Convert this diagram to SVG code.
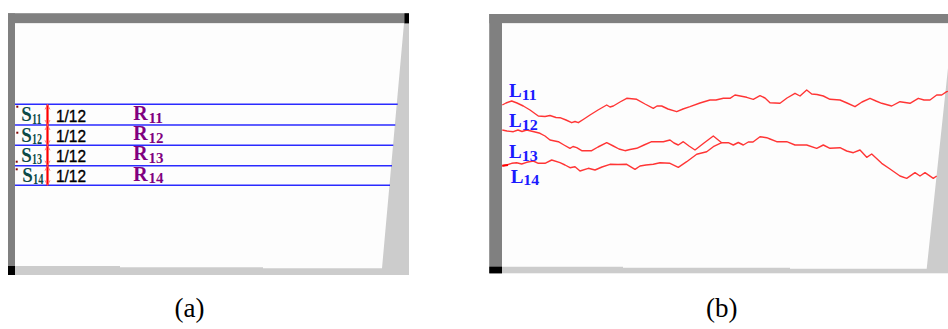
<svg xmlns="http://www.w3.org/2000/svg" width="948" height="329" viewBox="0 0 948 329">
<style>
.lg{fill:#cccccc}
.dg{fill:#808080}
.bk{fill:#000000}
.wh{fill:#fdfdfd}
.bl{stroke:#2a2aff;stroke-width:1.5;fill:none}
.rl{stroke:#ff3535;stroke-width:1.4;fill:none;stroke-linejoin:round}
.ar{stroke:#ff0000;stroke-width:2.2;fill:none;marker-start:url(#ah);marker-end:url(#ah)}
.s{font-family:"Liberation Serif",serif;font-weight:bold;fill:#0c4a48}
.r{font-family:"Liberation Serif",serif;font-weight:bold;fill:#800080}
.l{font-family:"Liberation Serif",serif;font-weight:bold;fill:#1a1aff}
.f{font-family:"Liberation Sans",sans-serif;font-size:16.5px;fill:#000;stroke:#000;stroke-width:0.35}
.cap{font-family:"Liberation Serif",serif;font-size:27px;fill:#000}
.dot{fill:#800000}
</style>
<defs>
<marker id="ah" viewBox="0 0 10 10" refX="10" refY="5" markerWidth="5" markerHeight="5" markerUnits="userSpaceOnUse" orient="auto-start-reverse" overflow="visible">
<path d="M0,0 L10,5 L0,10" fill="none" stroke="#ff5a5a" stroke-width="1.6"/>
</marker>
</defs>
<rect width="948" height="329" fill="#ffffff"/>

<g id="panel-a">
<rect class="lg" x="8" y="13.3" width="401" height="261.7"/>
<rect class="dg" x="8" y="13.3" width="401" height="10"/>
<rect class="dg" x="8" y="13.3" width="7" height="261.7"/>
<rect class="bk" x="404.5" y="13.3" width="4.5" height="10"/>
<rect class="bk" x="8" y="266" width="7" height="9"/>
<polygon class="wh" points="15,23.3 404,23.3 382,268.3 263,268.3 263,267.3 120,267.3 120,266 15,266"/>
</g>

<g id="layers-a">
<line class="bl" x1="15" y1="104.3" x2="397.7" y2="104.3"/>
<line class="bl" x1="15" y1="125" x2="395.3" y2="125"/>
<line class="bl" x1="15" y1="145.3" x2="393.3" y2="145.3"/>
<line class="bl" x1="15" y1="165.7" x2="392" y2="165.7"/>
<line class="bl" x1="15" y1="185.3" x2="390" y2="185.3"/>
</g>

<g id="arrows-a">
<line class="ar" x1="47.5" y1="104.5" x2="47.5" y2="125"/>
<line class="ar" x1="47.5" y1="125" x2="47.5" y2="145.3"/>
<line class="ar" x1="47.5" y1="145.3" x2="47.5" y2="165.7"/>
<line class="ar" x1="47.5" y1="165.7" x2="47.5" y2="185.3"/>
</g>

<g id="row-11">
<rect class="dot" x="16.3" y="105.7" width="2" height="2"/>
<text class="s" x="21.3" y="121.2" font-size="20.5" textLength="10.5" lengthAdjust="spacingAndGlyphs">S</text>
<text class="s" x="32" y="123.5" font-size="15" textLength="9.5" lengthAdjust="spacingAndGlyphs">11</text>
<text class="f" x="56" y="121.5" textLength="30" lengthAdjust="spacingAndGlyphs">1/12</text>
<text class="r" x="133.3" y="119.5" font-size="20">R</text>
<text class="r" x="148.5" y="123.3" font-size="14.5" textLength="14.5" lengthAdjust="spacingAndGlyphs">11</text>
</g>
<g id="row-12">
<rect class="dot" x="16.3" y="131.7" width="2" height="2"/>
<text class="s" x="21.3" y="141.8" font-size="20.5" textLength="10.5" lengthAdjust="spacingAndGlyphs">S</text>
<text class="s" x="32" y="143.5" font-size="15" textLength="10" lengthAdjust="spacingAndGlyphs">12</text>
<text class="f" x="56" y="141.7" textLength="30" lengthAdjust="spacingAndGlyphs">1/12</text>
<text class="r" x="133.3" y="140" font-size="20">R</text>
<text class="r" x="148.5" y="143.3" font-size="14.5" textLength="15" lengthAdjust="spacingAndGlyphs">12</text>
</g>
<g id="row-13">
<rect class="dot" x="15.7" y="160.7" width="2" height="2"/>
<text class="s" x="21.3" y="161.8" font-size="20.5" textLength="10.5" lengthAdjust="spacingAndGlyphs">S</text>
<text class="s" x="32" y="163.5" font-size="15" textLength="10" lengthAdjust="spacingAndGlyphs">13</text>
<text class="f" x="56" y="161.7" textLength="30" lengthAdjust="spacingAndGlyphs">1/12</text>
<text class="r" x="133.3" y="160" font-size="20">R</text>
<text class="r" x="148.5" y="163.3" font-size="14.5" textLength="15" lengthAdjust="spacingAndGlyphs">13</text>
</g>
<g id="row-14">
<rect class="dot" x="15.7" y="168.3" width="2" height="2"/>
<text class="s" x="22.3" y="181.8" font-size="20.5" textLength="10.5" lengthAdjust="spacingAndGlyphs">S</text>
<text class="s" x="33" y="183.5" font-size="15" textLength="10.5" lengthAdjust="spacingAndGlyphs">14</text>
<text class="f" x="56" y="181.7" textLength="30" lengthAdjust="spacingAndGlyphs">1/12</text>
<text class="r" x="133.3" y="180.7" font-size="20">R</text>
<text class="r" x="148.5" y="183.3" font-size="14.5" textLength="15" lengthAdjust="spacingAndGlyphs">14</text>
</g>

<g id="panel-b">
<rect class="lg" x="489.3" y="14" width="458.7" height="259.3"/>
<rect class="dg" x="489.3" y="14" width="458.7" height="9.3"/>
<rect class="dg" x="489.3" y="14" width="12.7" height="259.3"/>
<rect class="bk" x="489.3" y="266.7" width="12.7" height="6.6"/>
<polygon class="wh" points="502,23.3 948,23.3 948,68 926.7,268.7 790,268.7 790,267.7 623,267.7 623,266.7 502,266.7"/>
</g>

<g id="curves-b">
<polyline class="rl" points="502.3,105 506,103 511.7,101 517,103 523.3,106 530,110 538.3,116 545,116.5 550,115.5 556,117.5 560,117.7 566,120 571.7,122.7 575,121.5 578.3,122.7 584,119 590,115 598,110 606.7,105 610,107 613.3,106 620,102 626.7,98.3 636.7,99.3 645,104 653.3,108.3 657,106 661.7,106 668,109 676.7,111.7 683,109 690,106.7 700,103 710,100 716,100 723.3,98.3 730,98.3 735,95 746.7,97.3 753.3,99.3 760,95.7 765,98 770,102.7 780,103.3 787,98 795,93.3 800,96 806.7,90 811.7,94 817,94.5 823.3,96 830,99.3 840,100 847,103 855,106.7 862,102 870,98.3 876,101 881.7,103.3 891.7,106 900,101.7 910,103.3 918.3,98.3 924,100 930,100 936.7,95 941.7,95 946.7,91.7 948,91.3"/>
<polyline class="rl" points="502.3,130 507,131 513.3,131.7 518,130 522,131.5 526.7,130 533,131.5 540,133.3 545,136 550,140 558.3,141.7 564,145 570,148.3 573,146.5 576.7,147.7 581.7,150.7 591.7,150.7 598,147 606.7,142.7 613.3,146 619,149 625,150.7 630,149.5 636.7,148.3 644,145 651.7,141.7 663.3,141.7 670,140 674,143 678.3,145 683.3,141.7 689,146 695,150 704,143 713.3,136 717,139 721.7,142.7 728.3,142.7 733.3,145 738.3,142.5 743.3,145 748.3,142 753,142 760,136.7 766.7,137.7 770,139 776.7,141.7 786.7,141.7 795,145 806.7,145 816.7,148.3 823.3,145 830,148.3 840,147.7 846.7,151 853.3,152.7 860,150 866.7,157.3 871.7,154 881.7,163.3 890,169 900,176 906.7,178.3 915,172.7 920,176 925,172.7 933.3,178.3 936.7,176"/>
<polyline class="rl" points="502.3,165.7 506.7,165 511.7,163.3 516.7,162.7 521.7,164 526.7,162.3 533.3,161 538.3,163.3 545,163.3 551.7,160 560,162.7 565,165 570,167.7 575,166.7 580,171 588.3,168.3 595,170 602,167 610,164.3 618,164.5 626.7,164.3 635,169.3 640,166 646,165 653.3,164.3 660,162.7 670,163.3 678.3,167.3 686.7,161.7 696.7,154.3 706.7,151.7 713.3,146.7 721.7,142.7"/>
<line x1="502.3" y1="165.7" x2="508" y2="165" stroke="#ff0000" stroke-width="2"/>
</g>

<g id="labels-b">
<text class="l" x="509" y="97.3" font-size="19">L</text>
<text class="l" x="521.7" y="99.5" font-size="14" textLength="15" lengthAdjust="spacingAndGlyphs">11</text>
<text class="l" x="509" y="127.3" font-size="19">L</text>
<text class="l" x="521.7" y="130" font-size="14" textLength="16" lengthAdjust="spacingAndGlyphs">12</text>
<text class="l" x="509" y="158.3" font-size="19">L</text>
<text class="l" x="521.7" y="160.7" font-size="14" textLength="16" lengthAdjust="spacingAndGlyphs">13</text>
<text class="l" x="510.7" y="182.7" font-size="19">L</text>
<text class="l" x="523.3" y="185" font-size="14" textLength="16" lengthAdjust="spacingAndGlyphs">14</text>
</g>

<g id="captions">
<text class="cap" x="189.5" y="317" text-anchor="middle">(a)</text>
<text class="cap" x="721.7" y="317" text-anchor="middle">(b)</text>
</g>
</svg>
